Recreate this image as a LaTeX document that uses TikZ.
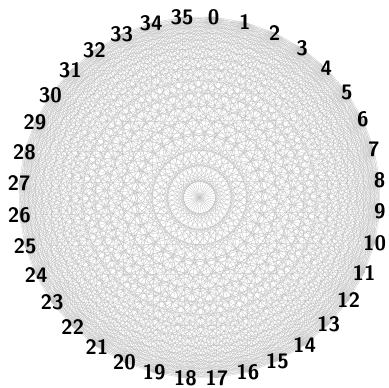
\documentclass[tikz,border=0pt]{standalone}
\usetikzlibrary{calc}
\tikzset{
    vlabel/.style={font=\sffamily\bfseries\fontsize{21}{21}\selectfont,inner sep=0pt},
    edge/.style={draw=black!24,line width=0.3pt}
}
\begin{document}
\begin{tikzpicture}[x=1bp,y=1bp]
    \useasboundingbox (0,0) rectangle (389,388);
    \coordinate (c) at (199.5,190.5);
    % vertices on the circle, 0 at the top, clockwise
    \foreach \i in {0,...,35}
        \coordinate (p\i) at ($(c)+({85.5-10*\i}:181)$);
    % every pair joined
    \foreach \i in {0,...,34}{
        \pgfmathtruncatemacro{\n}{\i+1}
        \foreach \j in {\n,...,35}
            \draw[edge] (p\i) -- (p\j);
    }
    \foreach \i in {0,...,35}
        \node[vlabel] (v\i) at (p\i) {\i};
\end{tikzpicture}
\end{document}
